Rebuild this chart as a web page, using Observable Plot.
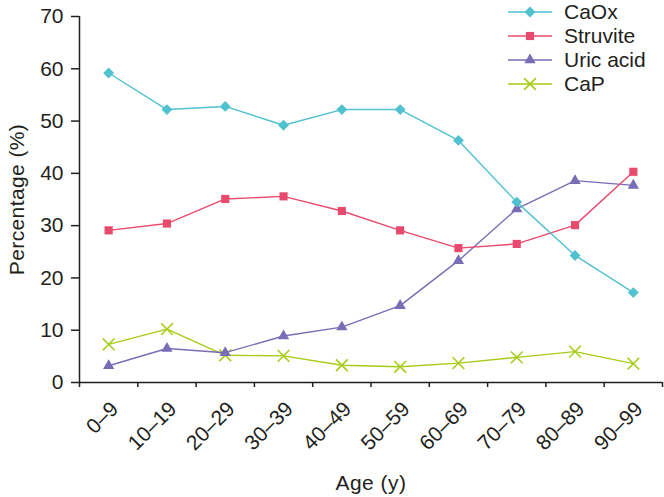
<!DOCTYPE html>
<html><head><meta charset="utf-8">
<script src="https://cdn.jsdelivr.net/npm/d3@7"></script>
<script src="https://cdn.jsdelivr.net/npm/@observablehq/plot@0.6"></script>
<style>
body{margin:0;background:#fff;font-family:Arial,"Liberation Sans",sans-serif;color:#231f20;}
#wrap{position:relative;width:664px;height:497px;}
#legend{position:absolute;left:508px;top:0;}
.row{display:flex;align-items:center;height:24px;font-size:21px;}
.row svg{display:block;margin-right:12px;}
g[aria-label="y-axis label"] text{letter-spacing:0.4px;}
g[aria-label="x-axis label"] text{letter-spacing:0.5px;}
</style></head><body><div id="wrap"><div id="legend"></div></div>
<script>
const ageGroups = ["0–9","10–19","20–29","30–39","40–49","50–59","60–69","70–79","80–89","90–99"];
const caox     = [59.2, 52.2, 52.8, 49.2, 52.2, 52.2, 46.3, 34.5, 24.3, 17.2];
const struvite = [29.1, 30.4, 35.1, 35.6, 32.8, 29.1, 25.7, 26.5, 30.1, 40.3];
const uricAcid = [3.2, 6.5, 5.7, 8.9, 10.6, 14.7, 23.3, 33.2, 38.6, 37.7];
const caP      = [7.3, 10.2, 5.2, 5.1, 3.3, 3.0, 3.7, 4.8, 5.9, 3.6];
const yTicks = [0, 10, 20, 30, 40, 50, 60, 70];
const seriesNames = ["CaOx", "Struvite", "Uric acid", "CaP"];
const seriesValues = [caox, struvite, uricAcid, caP];
const seriesColors = ["#4fc1cf", "#e84a6d", "#7a6cb5", "#a6cc17"];
const seriesSymbols = ["diamond2", "square", "triangle", "times"];
const seriesR = [4.9, 4.6, 4.2, 5.4];

const series = seriesNames.map((name, s) => ({
  name, color: seriesColors[s], symbol: seriesSymbols[s], r: seriesR[s],
  rows: ageGroups.map((a, i) => ({age: a, pos: i + 0.5, value: seriesValues[s][i]}))
}));

const ink = "#231f20";
const marks = [
  Plot.axisY({ticks: yTicks, tickSize: 8, tickPadding: 8, stroke: ink, strokeWidth: 1.5, fontSize: 21,
    label: "Percentage (%)", labelAnchor: "center", labelOffset: 70, labelArrow: "none"}),
  Plot.axisX({ticks: d3.range(ageGroups.length + 1), tickSize: 5, tickFormat: () => "",
    stroke: ink, strokeWidth: 1.5, label: null}),
  Plot.axisX({ticks: ageGroups.map((a, i) => i + 0.5), tickSize: 0, tickPadding: 23, dx: 6, tickRotate: -45, fontSize: 21,
    tickFormat: v => ageGroups[Math.floor(v)], label: "Age (y)", labelAnchor: "center",
    labelOffset: 107, labelArrow: "none"}),
  Plot.ruleX([0], {stroke: ink, strokeWidth: 1.5}),
  Plot.ruleY([0], {stroke: ink, strokeWidth: 1.5})
];
for (const s of series.slice().reverse()) {
  marks.push(Plot.line(s.rows, {x: "pos", y: "value", stroke: s.color, strokeWidth: 1.4}));
  const filled = s.symbol !== "times";
  marks.push(Plot.dot(s.rows, {x: "pos", y: "value", symbol: () => s.symbol, r: s.r,
    fill: filled ? s.color : "none", stroke: filled ? "none" : s.color, strokeWidth: 1.6}));
}

const chart = Plot.plot({
  width: 664, height: 497,
  marginLeft: 79, marginRight: 2, marginTop: 16, marginBottom: 115,
  style: {fontFamily: "Arial, 'Liberation Sans', sans-serif", fontSize: "21px", color: ink, background: "#fff", overflow: "visible"},
  x: {domain: [0, ageGroups.length]},
  y: {domain: [0, 70]},
  symbol: {type: "identity"},
  marks
});
document.getElementById("wrap").prepend(chart);

const legend = d3.select("#legend");
series.forEach(s => {
  const row = legend.append("div").attr("class", "row");
  const svg = row.append("svg").attr("width", 44).attr("height", 24);
  svg.append("line").attr("x1", 0).attr("x2", 44).attr("y1", 12).attr("y2", 12)
    .attr("stroke", s.color).attr("stroke-width", 1.4);
  const symMap = {diamond2: d3.symbolDiamond2, square: d3.symbolSquare, triangle: d3.symbolTriangle, times: d3.symbolTimes};
  const filled = s.symbol !== "times";
  svg.append("path").attr("transform", "translate(22,12)")
    .attr("d", d3.symbol(symMap[s.symbol], s.r * s.r * Math.PI)())
    .attr("fill", filled ? s.color : "none").attr("stroke", filled ? "none" : s.color).attr("stroke-width", 1.6);
  row.append("span").text(s.name);
});
</script>
</body></html>
